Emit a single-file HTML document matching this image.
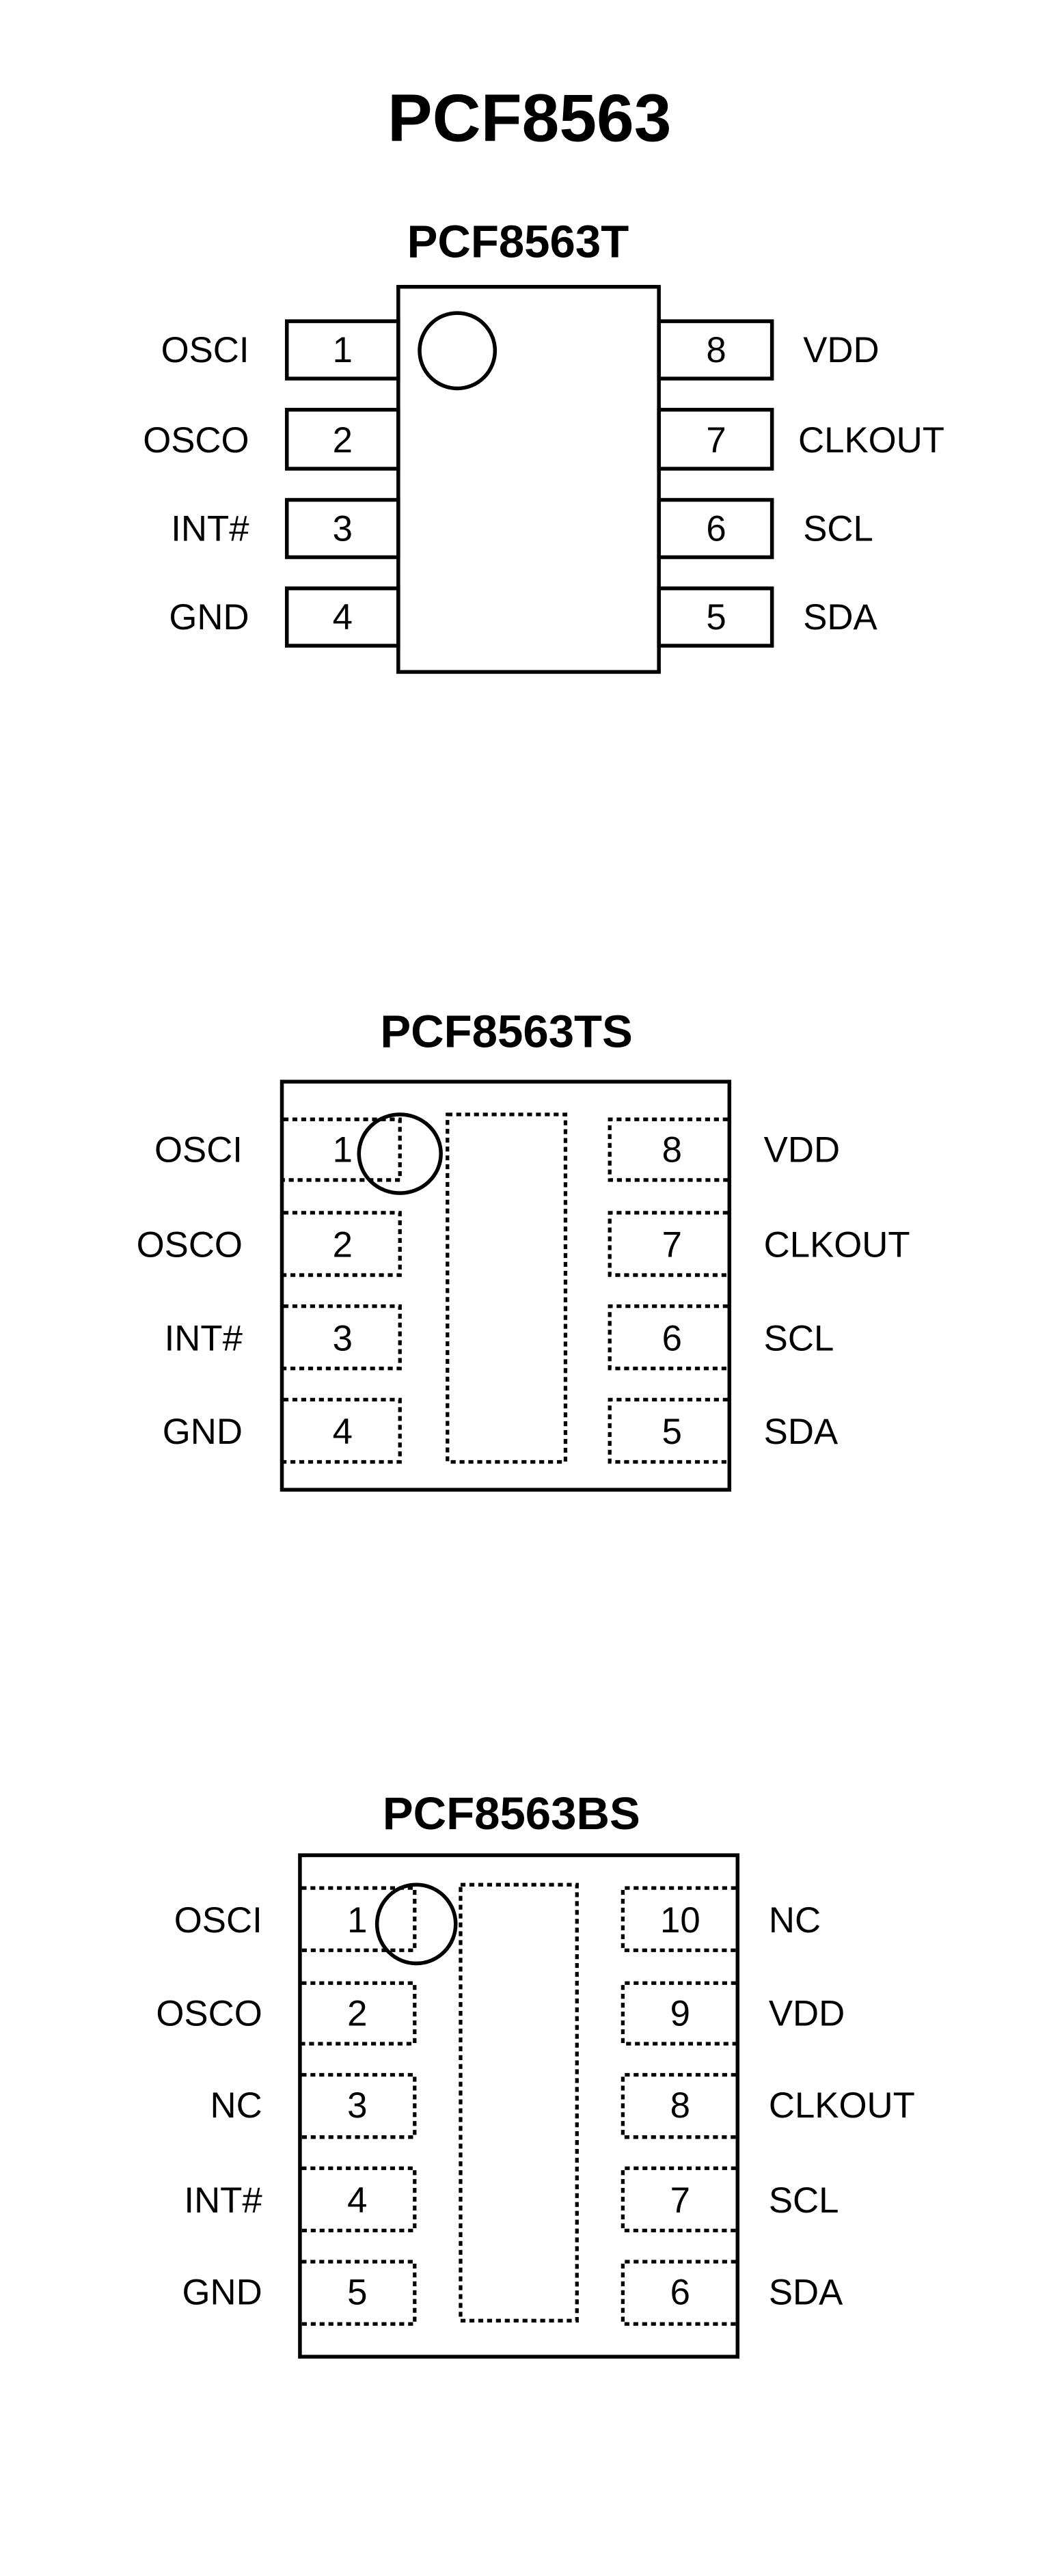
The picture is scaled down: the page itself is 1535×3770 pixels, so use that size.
<!DOCTYPE html>
<html><head><meta charset="utf-8"><style>
html,body{margin:0;padding:0;background:#fff;}
svg{display:block;}
text{font-family:"Liberation Sans","DejaVu Sans",sans-serif;fill:#000;}
.t{font-weight:bold;}
.l{font-size:22px;}
.n{font-size:22px;text-anchor:middle;}
.b{fill:none;stroke:#000;stroke-width:2.3;}
.d{fill:none;stroke:#000;stroke-width:2.2;stroke-dasharray:3 2.4;}
</style></head><body>
<svg width="1535" height="3770" viewBox="0 0 640 1571.8" preserveAspectRatio="none" xmlns="http://www.w3.org/2000/svg">
<text class="t" x="323" y="86" font-size="41" text-anchor="middle">PCF8563</text>

<!-- PCF8563T -->
<text class="t" x="316" y="157" font-size="28" text-anchor="middle">PCF8563T</text>
<rect class="b" x="243" y="175" width="159" height="235"/>
<circle class="b" cx="279" cy="214" r="23"/>
<g class="b">
<rect x="175" y="196" width="68" height="35"/><rect x="175" y="250" width="68" height="36"/>
<rect x="175" y="305" width="68" height="35"/><rect x="175" y="359" width="68" height="35"/>
<rect x="402" y="196" width="69" height="35"/><rect x="402" y="250" width="69" height="36"/>
<rect x="402" y="305" width="69" height="35"/><rect x="402" y="359" width="69" height="35"/>
</g>
<g class="l" text-anchor="end">
<text x="152" y="221">OSCI</text><text x="152" y="276">OSCO</text>
<text x="152" y="330">INT#</text><text x="152" y="384">GND</text>
</g>
<g class="n">
<text x="209" y="221">1</text><text x="209" y="276">2</text><text x="209" y="330">3</text><text x="209" y="384">4</text>
<text x="437" y="221">8</text><text x="437" y="276">7</text><text x="437" y="330">6</text><text x="437" y="384">5</text>
</g>
<g class="l">
<text x="490" y="221">VDD</text><text x="487" y="276">CLKOUT</text>
<text x="490" y="330">SCL</text><text x="490" y="384">SDA</text>
</g>

<!-- PCF8563TS -->
<text class="t" x="309" y="639" font-size="28" text-anchor="middle">PCF8563TS</text>
<rect class="b" x="172" y="660" width="273" height="249"/>
<g class="d">
<path d="M173 683H244V720H173"/><path d="M173 740H244V778H173"/>
<path d="M173 797H244V835H173"/><path d="M173 854H244V892H173"/>
<path d="M444 683H372V720H444"/><path d="M444 740H372V778H444"/>
<path d="M444 797H372V835H444"/><path d="M444 854H372V892H444"/>
<rect x="273" y="680" width="72" height="212"/>
</g>
<ellipse class="b" cx="244" cy="704" rx="25" ry="24"/>
<g class="l" text-anchor="end">
<text x="148" y="709">OSCI</text><text x="148" y="767">OSCO</text>
<text x="148" y="824">INT#</text><text x="148" y="881">GND</text>
</g>
<g class="n">
<text x="209" y="709">1</text><text x="209" y="767">2</text><text x="209" y="824">3</text><text x="209" y="881">4</text>
<text x="410" y="709">8</text><text x="410" y="767">7</text><text x="410" y="824">6</text><text x="410" y="881">5</text>
</g>
<g class="l">
<text x="466" y="709">VDD</text><text x="466" y="767">CLKOUT</text>
<text x="466" y="824">SCL</text><text x="466" y="881">SDA</text>
</g>

<!-- PCF8563BS -->
<text class="t" x="312" y="1116" font-size="28" text-anchor="middle">PCF8563BS</text>
<rect class="b" x="183" y="1132" width="267" height="306"/>
<g class="d">
<path d="M184 1152H253V1190H184"/><path d="M184 1210H253V1247H184"/>
<path d="M184 1266H253V1304H184"/><path d="M184 1323H253V1361H184"/>
<path d="M184 1380H253V1418H184"/>
<path d="M449 1152H380V1190H449"/><path d="M449 1210H380V1247H449"/>
<path d="M449 1266H380V1304H449"/><path d="M449 1323H380V1361H449"/>
<path d="M449 1380H380V1418H449"/>
<rect x="281" y="1150" width="71" height="266"/>
</g>
<ellipse class="b" cx="254" cy="1174" rx="24" ry="24"/>
<g class="l" text-anchor="end">
<text x="160" y="1179">OSCI</text><text x="160" y="1236">OSCO</text>
<text x="160" y="1292">NC</text><text x="160" y="1350">INT#</text><text x="160" y="1406">GND</text>
</g>
<g class="n">
<text x="218" y="1179">1</text><text x="218" y="1236">2</text><text x="218" y="1292">3</text><text x="218" y="1350">4</text><text x="218" y="1406">5</text>
<text x="415" y="1179">10</text><text x="415" y="1236">9</text><text x="415" y="1292">8</text><text x="415" y="1350">7</text><text x="415" y="1406">6</text>
</g>
<g class="l">
<text x="469" y="1179">NC</text><text x="469" y="1236">VDD</text>
<text x="469" y="1292">CLKOUT</text><text x="469" y="1350">SCL</text><text x="469" y="1406">SDA</text>
</g>
</svg>
</body></html>
